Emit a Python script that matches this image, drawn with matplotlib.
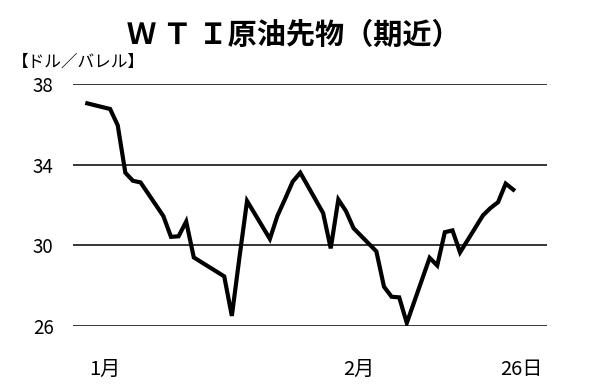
import matplotlib
matplotlib.use("Agg")
import matplotlib.pyplot as plt
import pandas as pd

plt.rcParams['font.family'] = ['Noto Sans CJK JP', 'DejaVu Sans']

# WTI front-month closes (calendar dates, 2016)
dates = ["01-01", "01-04", "01-05", "01-06", "01-07", "01-08", "01-11", "01-12",
         "01-13", "01-14", "01-15", "01-19", "01-20", "01-21", "01-22", "01-25",
         "01-26", "01-27", "01-28", "01-29", "02-01", "02-02", "02-03", "02-04",
         "02-05", "02-08", "02-09", "02-10", "02-11", "02-12", "02-15", "02-16",
         "02-17", "02-18", "02-19", "02-22", "02-23", "02-24", "02-25", "02-26"]
prices = [37.04, 36.76, 35.95, 33.6, 33.2, 33.12, 31.45, 30.42,
          30.45, 31.18, 29.4, 28.46, 26.5, 29.4, 32.2, 30.32,
          31.47, 32.3, 33.16, 33.6, 31.6, 29.85, 32.27, 31.7,
          30.85, 29.7, 27.95, 27.45, 27.42, 26.15, 29.38, 29.0,
          30.65, 30.74, 29.65, 31.48, 31.85, 32.14, 33.06, 32.76]

y_ticks = [26, 30, 34, 38]
x_labels = ["1月", "2月", "26日"]
x_label_days = [2.3, 35.7, 57.0]

title = "Ｗ Ｔ Ｉ原油先物（期近）"
unit = "【ドル／バレル】"

# days since Jan 1
dt = pd.to_datetime(["2016-" + d for d in dates])
days = (dt - pd.Timestamp("2016-01-01")).days.values

fig = plt.figure(figsize=(6, 3.85), dpi=100)
ax = fig.add_axes([73/600, 1-326/385, 474/600, 242/385])

ax.plot(days, prices, color="black", lw=3.0, solid_joinstyle="miter")

ax.set_ylim(26, 38)
ax.set_xlim(-1.88, 60.43)
ax.set_yticks(y_ticks)
ax.yaxis.grid(True, color="black", lw=1.1)
ax.set_axisbelow(True)
ax.set_xticks(x_label_days)
ax.set_xticklabels(x_labels)

for s in ax.spines.values():
    s.set_visible(False)
ax.tick_params(axis="y", length=0, pad=14, labelsize=13.5)
ax.tick_params(axis="x", length=0, pad=24, labelsize=14.5)

fig.text(294/600, 1-35/385, title, ha="center", va="center",
         fontsize=21, fontweight="bold")
fig.text(12/600, 1-62/385, unit, ha="left", va="center", fontsize=12)

fig.savefig("out.png", dpi=100)
